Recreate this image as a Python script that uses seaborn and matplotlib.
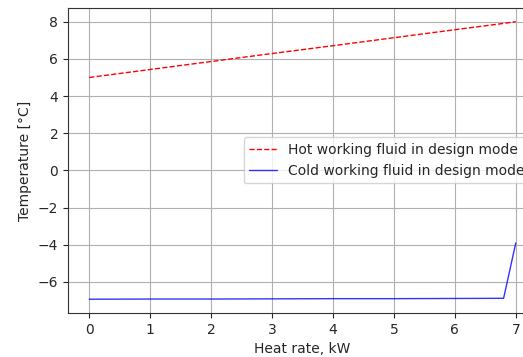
import numpy as np
import pandas as pd
import matplotlib
matplotlib.use("Agg")
import matplotlib.pyplot as plt
import seaborn as sns

# heat rate, kW
heat_rate = [0, 1, 2, 3, 4, 5, 6, 6.8, 7]
# temperatures, degC
hot_temp = [5.0, 5.43, 5.86, 6.29, 6.71, 7.14, 7.57, 7.91, 8.0]
cold_temp = [-6.93, -6.92, -6.92, -6.91, -6.9, -6.9, -6.89, -6.88, -3.9]

hot_label = "Hot working fluid in design mode"
cold_label = "Cold working fluid in design mode"

sns.set_style("ticks")
plt.rcParams['font.family'] = ['DejaVu Sans']

fig = plt.figure(figsize=(5.23, 3.57), dpi=100)
# axes run past the right edge, as in the cropped reference
ax = fig.add_axes([0.130, 0.123, 0.897, 0.855])

sns.lineplot(x=heat_rate, y=hot_temp, ax=ax, color='red', linestyle='--',
             linewidth=1, label=hot_label)
sns.lineplot(x=heat_rate, y=cold_temp, ax=ax, color='blue', linewidth=1,
             label=cold_label, alpha=0.8)

ax.set_xlabel("Heat rate, kW")
ax.set_ylabel("Temperature [°C]")
ax.set_xticks(range(0, 8))
ax.set_yticks(range(-6, 9, 2))
ax.grid(True, color='#b0b0b0', linewidth=0.8)
for s in ax.spines.values():
    s.set_visible(True)
    s.set_linewidth(0.8)
    s.set_color('#333333')
ax.legend(loc='center right')

fig.savefig("out.png", dpi=100)
